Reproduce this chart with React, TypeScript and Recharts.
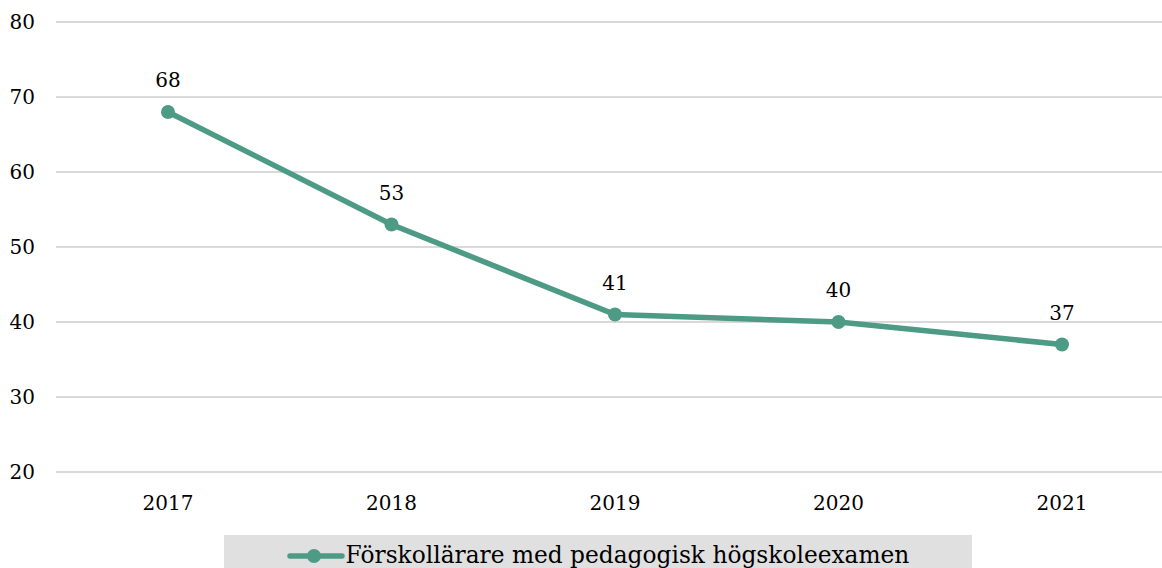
import React from 'react';
import { LineChart, Line, XAxis, YAxis, CartesianGrid, Legend, LabelList } from 'recharts';

const years = ['2017', '2018', '2019', '2020', '2021'];
const values = [68, 53, 41, 40, 37];
const yTicks = [20, 30, 40, 50, 60, 70, 80];
const seriesName = 'Förskollärare med pedagogisk högskoleexamen';

const GREEN = '#4e9b85';
const FONT = '"DejaVu Serif", serif';

const data = years.map((year, i) => ({ year, value: values[i] }));

// Legend drawn as a grey box under the axis, like the original
const LegendBox = () => (
  <div
    style={{
      width: 748,
      height: 40,
      background: '#e0e0e0',
      display: 'flex',
      alignItems: 'flex-start',
      justifyContent: 'center',
      fontFamily: FONT,
      fontSize: 23.3,
      lineHeight: '28px',
      color: '#000',
      paddingTop: 6,
      boxSizing: 'border-box',
    }}
  >
    <svg width={58} height={28} style={{ marginRight: 1 }}>
      <line x1={3} y1={15} x2={55} y2={15} stroke={GREEN} strokeWidth={5.5} strokeLinecap="round" />
      <circle cx={27} cy={15} r={7} fill={GREEN} />
    </svg>
    <span>{seriesName}</span>
  </div>
);

const App: React.FC = () => {
  return (
    <div style={{ position: 'absolute', left: 0, top: 0, width: 1162, height: 568, overflow: 'hidden', background: '#fff' }}>
      <LineChart
        width={1176}
        height={568}
        data={data}
        margin={{ top: 22, right: 2, left: 0, bottom: 16 }}
      >
        <CartesianGrid vertical={false} stroke="#d9d9d9" strokeWidth={2} />
        <XAxis
          dataKey="year"
          axisLine={false}
          tickLine={false}
          padding={{ left: 112, right: 112 }}
          tick={{ fill: '#000', fontSize: 20, fontFamily: FONT }}
          tickMargin={18}
          height={40}
        />
        <YAxis
          domain={[20, 80]}
          ticks={yTicks}
          axisLine={false}
          tickLine={false}
          width={56}
          tick={{ fill: '#000', fontSize: 20, fontFamily: FONT, textAnchor: 'end' }}
          tickMargin={15}
        />
        <Legend
          content={<LegendBox />}
          height={40}
          wrapperStyle={{ position: 'absolute', left: 224, top: 535, width: 748 }}
        />
        <Line
          type="linear"
          dataKey="value"
          name={seriesName}
          stroke={GREEN}
          strokeWidth={5.5}
          dot={{ r: 7, fill: GREEN, stroke: GREEN, strokeWidth: 0 }}
          isAnimationActive={false}
        >
          <LabelList dataKey="value" position="top" offset={25} fill="#000" fontSize={20} fontFamily={FONT} />
        </Line>
      </LineChart>
    </div>
  );
};

export default App;
